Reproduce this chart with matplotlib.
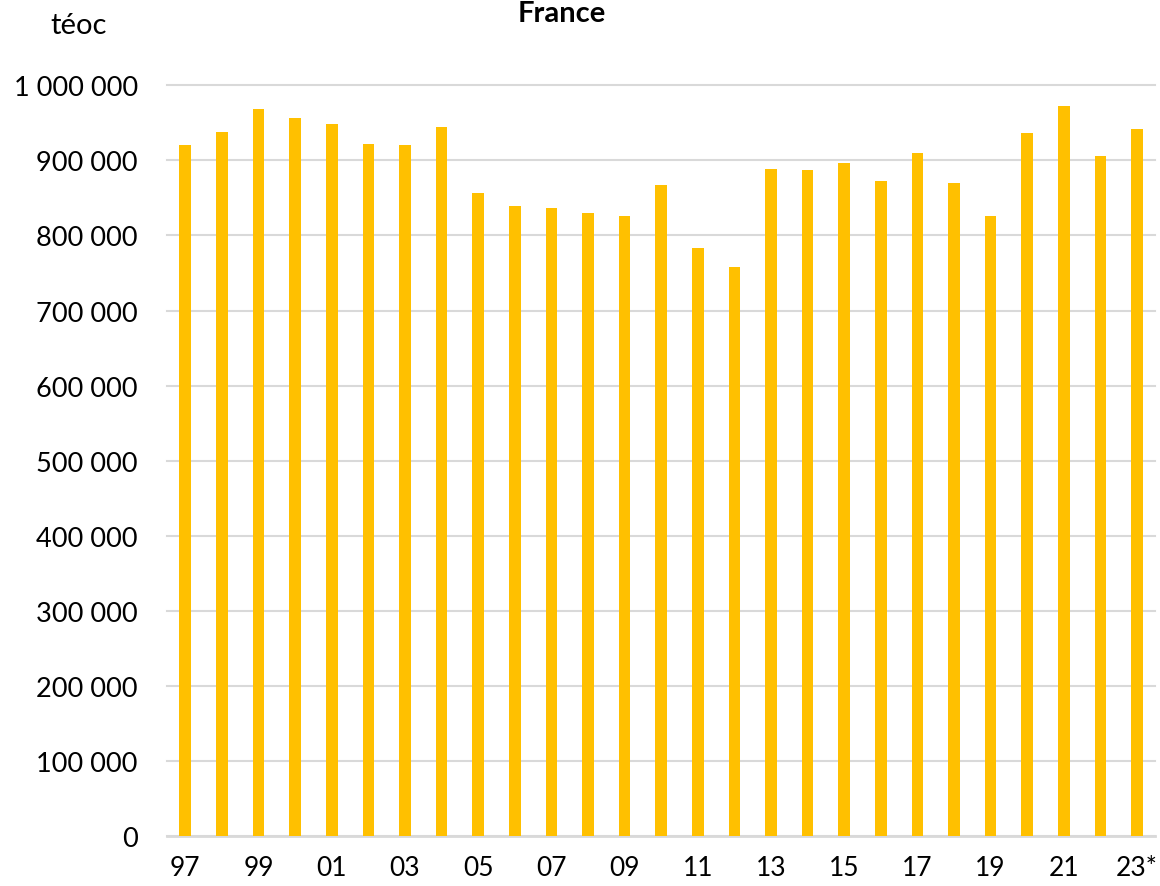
import matplotlib
matplotlib.use("Agg")
import matplotlib.pyplot as plt
from matplotlib.ticker import FuncFormatter, MultipleLocator

# Annual values (téoc), 1997-2023 (2023 provisional)
years = list(range(1997, 2024))
values = [921000, 938000, 968000, 957000, 949000, 922000, 920000, 945000,
          857000, 839000, 836000, 830000, 826000, 867000, 783000, 758000,
          888000, 887000, 896000, 872000, 910000, 870000, 826000, 937000,
          972000, 906000, 942000]
tick_labels = ["97", "99", "01", "03", "05", "07", "09", "11", "13",
               "15", "17", "19", "21", "23*"]

plt.rcParams["font.family"] = ["Lato", "DejaVu Sans"]

fig = plt.figure(figsize=(11.6, 8.87), dpi=100)
ax = fig.add_axes([0.144, 0.0564, 0.852, 0.8463])

x = list(range(len(years)))
ax.bar(x, values, width=0.32, color="#FFC000", zorder=3)

ax.set_xlim(-0.5, len(years) - 0.5)
ax.set_ylim(0, 1_000_000)
ax.yaxis.set_major_locator(MultipleLocator(100_000))
ax.yaxis.set_major_formatter(
    FuncFormatter(lambda v, _: f"{int(v):,}".replace(",", " ")))

ax.set_xticks(x[::2])
ax.set_xticklabels(tick_labels)

ax.grid(axis="y", color="#d9d9d9", linewidth=1.5, zorder=0)
for gl in ax.get_ygridlines():
    gl.set_clip_on(False)
for side in ("top", "right", "left"):
    ax.spines[side].set_visible(False)
ax.spines["bottom"].set_color("#d9d9d9")
ax.spines["bottom"].set_linewidth(2)

ax.tick_params(axis="y", length=0, pad=21, labelsize=19.5, colors="black")
ax.tick_params(axis="x", length=0, pad=14, labelsize=19, colors="black")

fig.text(0.068, 0.971, "téoc", ha="center", va="center", fontsize=21)
fig.text(0.484, 0.999, "France", ha="center", va="top", fontsize=21,
         fontweight="bold")

fig.savefig("out.png", dpi=100)
